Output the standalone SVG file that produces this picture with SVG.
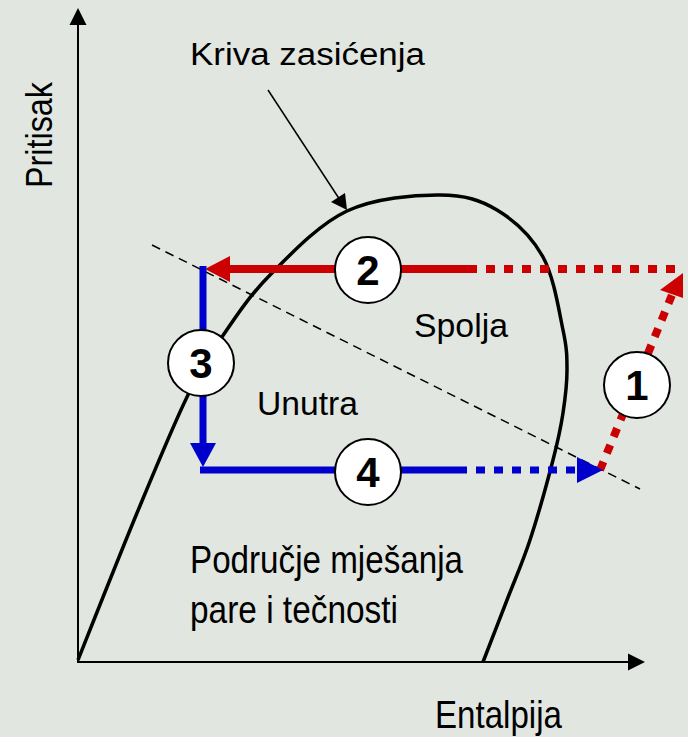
<svg xmlns="http://www.w3.org/2000/svg" width="688" height="737" viewBox="0 0 688 737">
  <defs>
    <style>
      .lbl { font-family: "Liberation Sans", Arial, sans-serif; fill: #000; }
      .num { font-family: "Liberation Sans", Arial, sans-serif; font-weight: bold; font-size: 42px; text-anchor: middle; fill: #000; }
      .badge { fill: #fff; stroke: #000; stroke-width: 2; }
      .axis { stroke: #000; stroke-width: 2; fill: none; }
      .red { stroke: #CC0000; stroke-width: 8; fill: none; }
      .blue { stroke: #0000CC; stroke-width: 7; fill: none; }
      .dots { stroke-dasharray: 9 9; }
    </style>
  </defs>
  <rect width="688" height="737" fill="#E1E6E1"/>

  <g id="connectors">
    <!-- axes -->
    <path class="axis" d="M78,662 V24"/>
    <polygon points="78,8 69.5,25 86.5,25" fill="#000"/>
    <path class="axis" d="M77,662 H630"/>
    <polygon points="645,662 628,653.5 628,670.5" fill="#000"/>

    <!-- saturation curve -->
    <path fill="none" stroke="#000" stroke-width="3.5" d="M78,660 C87.8,635.5 118.8,556.8 137,513 C155.2,469.2 172.8,426.3 187,397 C201.2,367.7 208.2,357.3 222,337 C235.8,316.7 249.2,296 270,275 C290.8,254 318.7,224.3 347,211 C375.3,197.7 415,194.8 440,195 C465,195.2 479.8,199.7 497,210 C514.2,220.3 532,237 543,257 C554,277 559,311.2 563,330 C567,348.8 567,356.2 567,370 C567,383.8 565.3,398 563,413 C560.7,428 558.5,438.8 553,460 C547.5,481.2 537.7,516.7 530,540 C522.3,563.3 514.8,579.7 507,600 C499.2,620.3 487,651.7 483,662"/>

    <!-- leader to curve -->
    <path d="M268,90 L340,200" stroke="#000" stroke-width="1.5" fill="none"/>
    <polygon points="347,210 331,202 345,193" fill="#000"/>

    <!-- dashed boundary -->
    <path d="M152,245 L640,489" stroke="#000" stroke-width="1.5" stroke-dasharray="9 6" fill="none"/>

    <!-- red: 1 dotted diagonal, dotted top, solid top with head -->
    <path class="red dots" d="M600,470 L674,290"/>
    <polygon points="683,273 660,290 683,298" fill="#CC0000"/>
    <path class="red dots" d="M468,269 H682"/>
    <path class="red" d="M468,269 H228"/>
    <polygon points="205,269 230,256 230,282" fill="#CC0000"/>

    <!-- blue: vertical down, solid bottom, dotted bottom with head -->
    <path class="blue" d="M203,266 V445"/>
    <polygon points="203,467 190,443 216,443" fill="#0000CC"/>
    <path class="blue" d="M200,470 H458"/>
    <path class="blue dots" d="M458,470 H578"/>
    <polygon points="603,470 577,457 577,483" fill="#0000CC"/>
  </g>

  <g id="node-1">
    <circle class="badge" cx="637" cy="385" r="33"/>
    <text class="num" x="637" y="400">1</text>
  </g>
  <g id="node-2">
    <circle class="badge" cx="368" cy="270" r="33"/>
    <text class="num" x="368" y="285">2</text>
  </g>
  <g id="node-3">
    <circle class="badge" cx="201" cy="363" r="33"/>
    <text class="num" x="201" y="378">3</text>
  </g>
  <g id="node-4">
    <circle class="badge" cx="368" cy="472" r="33"/>
    <text class="num" x="368" y="487">4</text>
  </g>

  <g id="labels">
    <text class="lbl" x="190" y="65" font-size="31" textLength="235" lengthAdjust="spacingAndGlyphs">Kriva zasićenja</text>
    <text class="lbl" transform="translate(52,188) rotate(-90)" font-size="37" textLength="106" lengthAdjust="spacingAndGlyphs">Pritisak</text>
    <text class="lbl" x="435" y="728" font-size="39" textLength="127" lengthAdjust="spacingAndGlyphs">Entalpija</text>
    <text class="lbl" x="414" y="337" font-size="33" textLength="94" lengthAdjust="spacingAndGlyphs">Spolja</text>
    <text class="lbl" x="257" y="415" font-size="34" textLength="101" lengthAdjust="spacingAndGlyphs">Unutra</text>
    <text class="lbl" x="190" y="573" font-size="39" textLength="273" lengthAdjust="spacingAndGlyphs">Područje mješanja</text>
    <text class="lbl" x="190" y="623" font-size="39" textLength="208" lengthAdjust="spacingAndGlyphs">pare i tečnosti</text>
  </g>
</svg>
